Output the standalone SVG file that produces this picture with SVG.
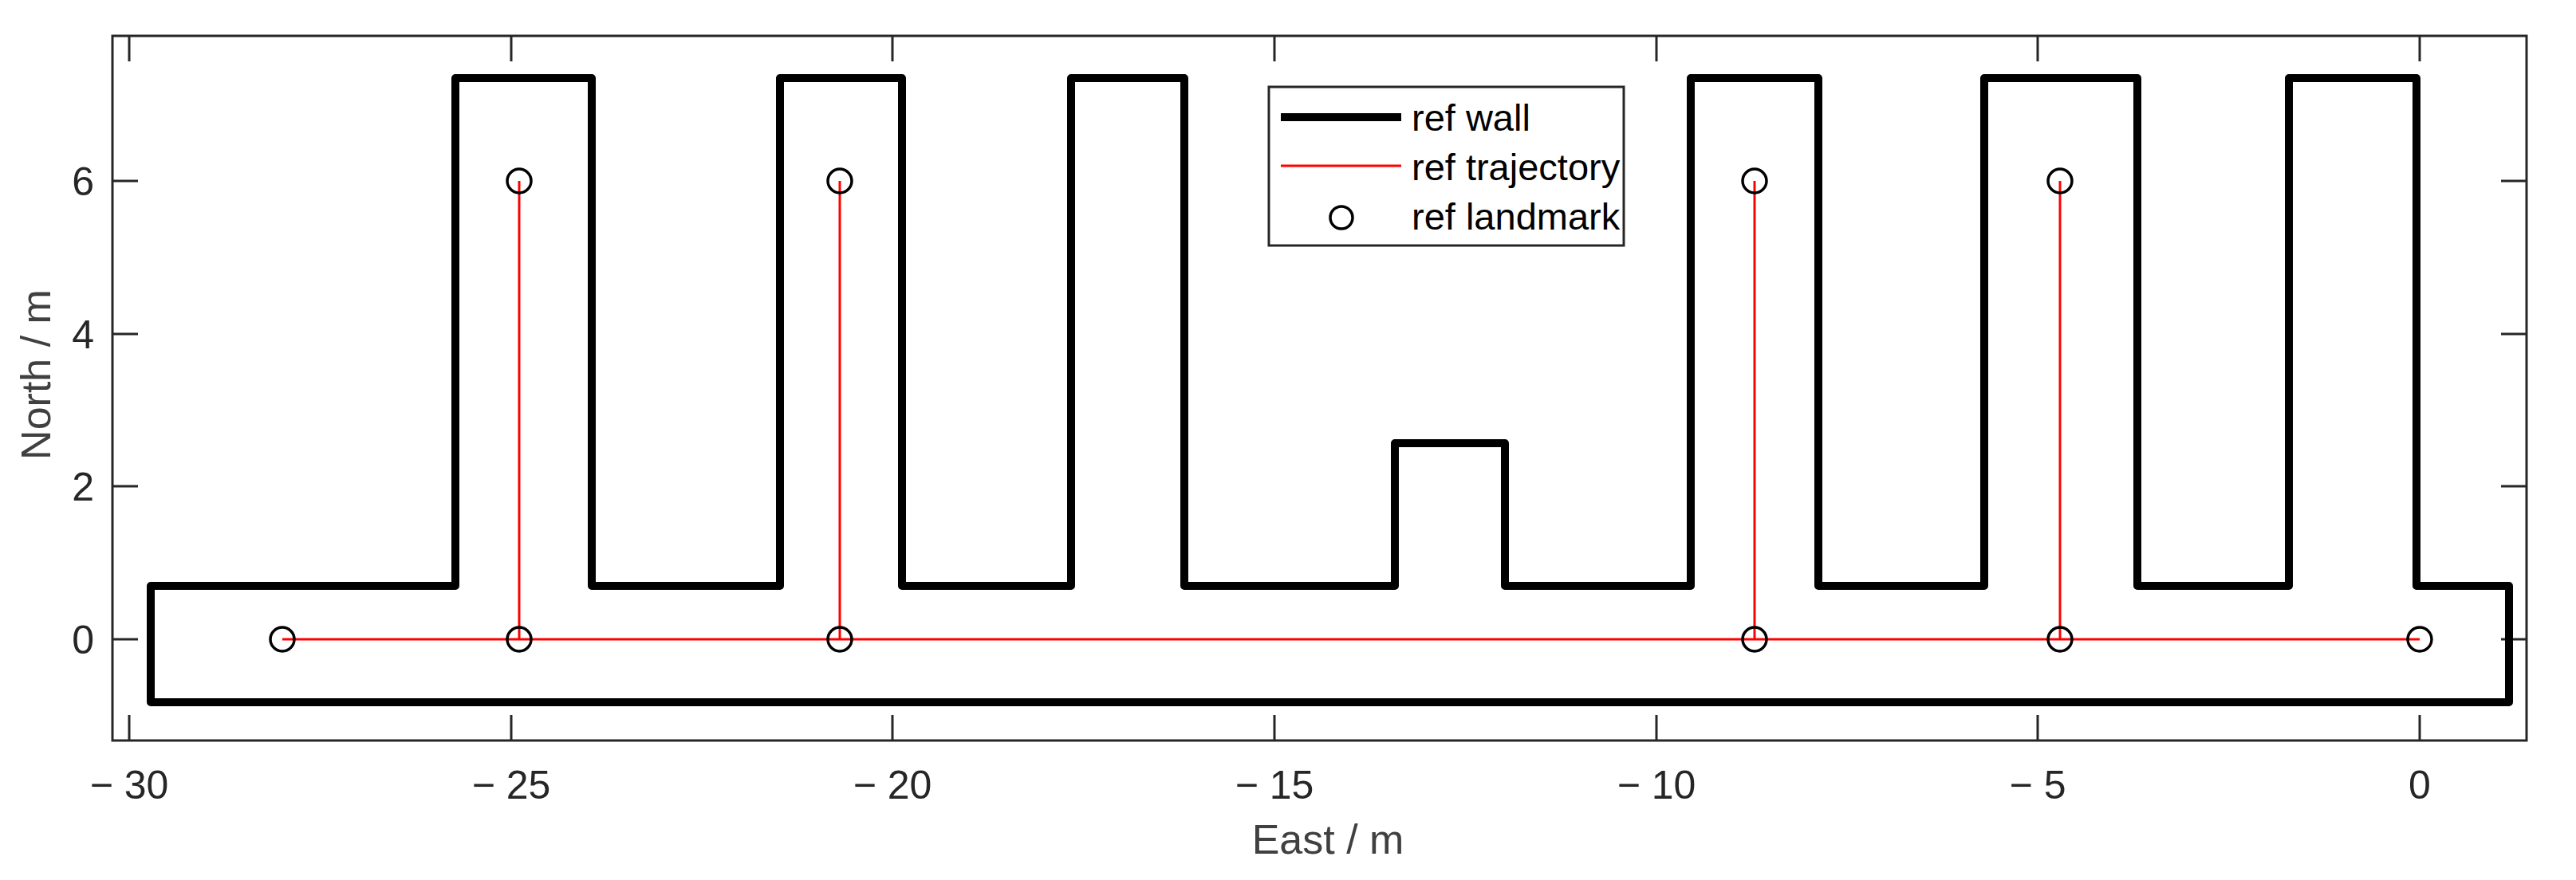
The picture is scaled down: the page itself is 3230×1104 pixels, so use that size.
<svg xmlns="http://www.w3.org/2000/svg" width="3230" height="1104" viewBox="0 0 3230 1104">
<style>
.ax{fill:none;stroke:#262626;stroke-width:3}
.tk{stroke:#262626;stroke-width:3}
.tl{font-family:"Liberation Sans",Arial,sans-serif;font-size:50px;fill:#262626}
.lb{font-family:"Liberation Sans",Arial,sans-serif;font-size:52px;fill:#404040;text-anchor:middle}
.wall{fill:none;stroke:#000;stroke-width:10;stroke-linejoin:round}
.traj{fill:none;stroke:#ff0000;stroke-width:3}
.lm{fill:none;stroke:#000;stroke-width:3.5}
.lg{font-family:"Liberation Sans",Arial,sans-serif;font-size:47px;fill:#000}
</style>
<rect width="3230" height="1104" fill="#fff"/>
<g id="axes">
<rect class="ax" x="141" y="45" width="3027" height="884"/>
<g class="tk">
<path d="M162 929v-32M641 929v-32M1119 929v-32M1598 929v-32M2077 929v-32M2555 929v-32M3034 929v-32"/>
<path d="M162 45v32M641 45v32M1119 45v32M1598 45v32M2077 45v32M2555 45v32M3034 45v32"/>
<path d="M141 802h32M141 610h32M141 419h32M141 227h32"/>
<path d="M3168 802h-32M3168 610h-32M3168 419h-32M3168 227h-32"/>
</g>
<g class="tl" text-anchor="middle">
<text x="162" y="1002">− 30</text>
<text x="641" y="1002">− 25</text>
<text x="1119" y="1002">− 20</text>
<text x="1598" y="1002">− 15</text>
<text x="2077" y="1002">− 10</text>
<text x="2555" y="1002">− 5</text>
<text x="3034" y="1002">0</text>
</g>
<g class="tl" text-anchor="end">
<text x="118" y="820">0</text>
<text x="118" y="628">2</text>
<text x="118" y="437">4</text>
<text x="118" y="245">6</text>
</g>
<text class="lb" x="1665" y="1071">East / m</text>
<text class="lb" transform="translate(63 470) rotate(-90)">North / m</text>
</g>
<g id="wall">
<path class="wall" d="M189 735H571V98H742V735H978V98H1131V735H1343V98H1485V735H1749V556H1887V735H2120V98H2280V735H2488V98H2680V735H2870V98H3030V735H3146V881H189Z"/>
</g>
<g id="connectors">
<path class="traj" d="M354 802H3034M651 802V227M1053 802V227M2200 802V227M2583 802V227"/>
</g>
<g id="landmarks">
<circle class="lm" cx="354" cy="802" r="15"/>
<circle class="lm" cx="651" cy="802" r="15"/>
<circle class="lm" cx="651" cy="227" r="15"/>
<circle class="lm" cx="1053" cy="802" r="15"/>
<circle class="lm" cx="1053" cy="227" r="15"/>
<circle class="lm" cx="2200" cy="802" r="15"/>
<circle class="lm" cx="2200" cy="227" r="15"/>
<circle class="lm" cx="2583" cy="802" r="15"/>
<circle class="lm" cx="2583" cy="227" r="15"/>
<circle class="lm" cx="3034" cy="802" r="15"/>
</g>
<g id="legend">
<rect x="1591" y="109" width="445" height="199" fill="#fff" stroke="#262626" stroke-width="3"/>
<path d="M1606 147H1757" stroke="#000" stroke-width="10"/>
<path d="M1606 208H1757" stroke="#ff0000" stroke-width="3"/>
<circle class="lm" cx="1682" cy="273" r="14"/>
<text class="lg" x="1770" y="164">ref wall</text>
<text class="lg" x="1770" y="226">ref trajectory</text>
<text class="lg" x="1770" y="288">ref landmark</text>
</g>
</svg>
